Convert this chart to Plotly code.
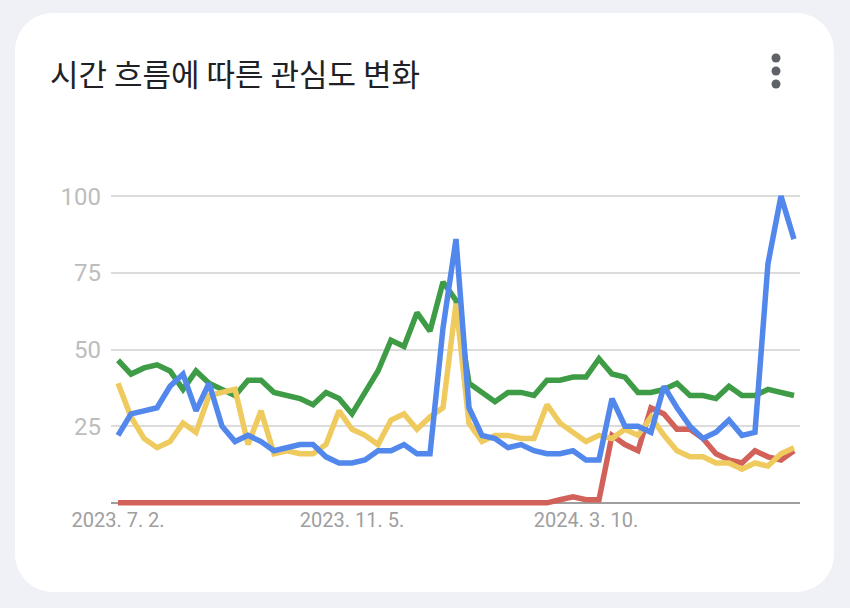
import pandas as pd
import plotly.graph_objects as go

# ---- data ----
start_date = "2023-07-02"
n_weeks = 53
dates = pd.date_range(start_date, periods=n_weeks, freq="7D").strftime("%Y-%m-%d").tolist()

blue = [22, 29, 30, 31, 38, 42, 30, 39, 25, 20, 22, 20, 17, 18, 19, 19, 15, 13, 13, 14,
        17, 17, 19, 16, 16, 57, 86, 31, 22, 21, 18, 19, 17, 16, 16, 17, 14, 14, 34, 25,
        25, 23, 38, 31, 25, 21, 23, 27, 22, 23, 78, 100, 86]
red = [0] * 33 + [0, 1, 2, 1, 1, 22, 19, 17, 31, 29, 24, 24, 21, 16, 14, 13, 17, 15, 14, 17]
yellow = [39, 28, 21, 18, 20, 26, 23, 35, 36, 37, 19, 30, 16, 17, 16, 16, 19, 30, 24, 22,
          19, 27, 29, 24, 28, 31, 65, 26, 20, 22, 22, 21, 21, 32, 26, 23, 20, 22, 21, 24,
          22, 28, 22, 17, 15, 15, 13, 13, 11, 13, 12, 16, 18]
green = [46.5, 42, 44, 45, 43, 37, 43, 39, 37, 35, 40, 40, 36, 35, 34, 32, 36, 34, 29, 36,
         43, 53, 51, 62, 56, 72, 66, 39, 36, 33, 36, 36, 35, 40, 40, 41, 41, 47, 42, 41,
         36, 36, 37, 39, 35, 35, 34, 38, 35, 35, 37, 36, 35]

tick_dates = ["2023-07-02", "2023-11-05", "2024-03-10"]
tick_labels = ["2023. 7. 2.", "2023. 11. 5.", "2024. 3. 10."]
y_ticks = [25, 50, 75, 100]
title_text = "시간 흐름에 따른 관심도 변화"

# ---- layout geometry (pixels) ----
FW, FH = 850, 608
L, R, T, B = 111, 50, 190, 99
W = FW - L - R
H = FH - T - B


def px(x):
    return (x - L) / W


def py(y):
    return (T + H - y) / H


fig = go.Figure()
series = [("green", green, "#3F9C46"), ("red", red, "#D2615A"),
          ("yellow", yellow, "#EFCB5F"), ("blue", blue, "#5287EC")]
for name, vals, col in series:
    fig.add_trace(go.Scatter(x=dates, y=vals, mode="lines", name=name,
                             line=dict(color=col, width=5.5), hoverinfo="x+y"))

# card with rounded corners
x0, y0, x1, y1, r = 15, 13, 834, 592, 38
k = 0.5523 * r


def P(x, y):
    return f"{px(x):.5f},{py(y):.5f}"


path = (f"M {P(x0 + r, y0)} L {P(x1 - r, y0)} "
        f"C {P(x1 - r + k, y0)} {P(x1, y0 + r - k)} {P(x1, y0 + r)} "
        f"L {P(x1, y1 - r)} "
        f"C {P(x1, y1 - r + k)} {P(x1 - r + k, y1)} {P(x1 - r, y1)} "
        f"L {P(x0 + r, y1)} "
        f"C {P(x0 + r - k, y1)} {P(x0, y1 - r + k)} {P(x0, y1 - r)} "
        f"L {P(x0, y0 + r)} "
        f"C {P(x0, y0 + r - k)} {P(x0 + r - k, y0)} {P(x0 + r, y0)} Z")

shapes = [dict(type="path", path=path, xref="paper", yref="paper",
               fillcolor="white", line=dict(width=0), layer="below")]
for cy in (58, 71, 84):
    shapes.append(dict(type="circle", xref="paper", yref="paper",
                       x0=px(771.5), x1=px(780.5), y0=py(cy + 4.5), y1=py(cy - 4.5),
                       fillcolor="#5f6368", line=dict(width=0), layer="above"))

fig.update_layout(
    width=FW, height=FH, autosize=False,
    margin=dict(l=L, r=R, t=T, b=B, pad=0),
    paper_bgcolor="#f0f1f6", plot_bgcolor="rgba(0,0,0,0)",
    showlegend=False,
    shapes=shapes,
    annotations=[dict(text=title_text, xref="paper", yref="paper",
                      x=px(48), y=py(73), xanchor="left", yanchor="middle",
                      showarrow=False,
                      font=dict(family="Noto Sans CJK KR", size=31, color="#202124"))],
    xaxis=dict(type="date", range=["2023-06-28 05:00", "2024-07-03 06:00"],
               tickvals=tick_dates, ticktext=tick_labels, showgrid=False,
               zeroline=False, showline=False, ticks="", ticklabelstandoff=-3,
               tickfont=dict(family="Roboto", size=20, color="#9e9e9e")),
    yaxis=dict(range=[-2, 102], tickvals=y_ticks, showgrid=True,
               gridcolor="#dcdcdc", gridwidth=1.5, zeroline=True,
               zerolinecolor="#9e9e9e", zerolinewidth=2, showline=False,
               ticks="", ticklabelstandoff=9,
               tickfont=dict(family="Roboto", size=24, color="#bdbdbd")),
)

fig.write_html("out.html",
               config={"displayModeBar": False},
               post_script="document.body.style.margin='0';"
                           "document.body.style.background='#f0f1f6';")
